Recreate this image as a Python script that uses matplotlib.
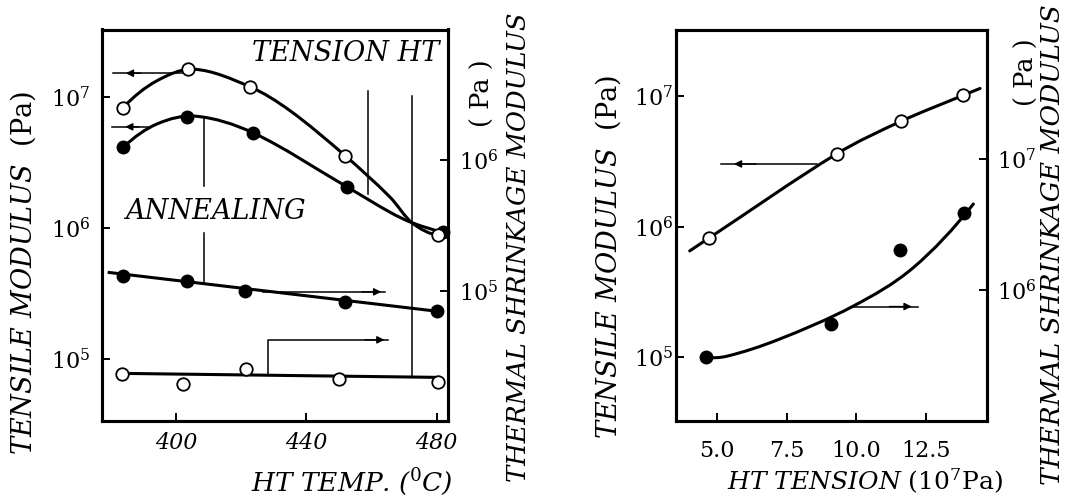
import numpy as np
import matplotlib
matplotlib.use("Agg")
import matplotlib.pyplot as plt
from matplotlib.path import Path
from matplotlib.patches import PathPatch
from matplotlib.ticker import NullLocator

plt.rcParams['font.family'] = ['DejaVu Serif']
plt.rcParams['mathtext.fontset'] = 'dejavuserif'

W, H = 1076, 499

# ---------------- data: left panel (HT temperature) ----------------
# TENSION HT, open circles (left axis)
temp_tension_open = [383.7, 403.7, 422.7, 451.9, 480.5]
mod_tension_open = [8.28e6, 1.62e7, 1.19e7, 3.56e6, 8.79e5]
# TENSION HT, filled circles (left axis)
temp_tension_fill = [383.7, 403.2, 423.7, 452.6, 482.1]
mod_tension_fill = [4.11e6, 6.95e6, 5.30e6, 2.05e6, 9.31e5]
# ANNEALING, filled circles (right axis)
temp_anneal_fill = [383.7, 403.2, 421.2, 451.9, 480.0]
mod_anneal_fill = [1.30e5, 1.20e5, 1.00e5, 8.28e4, 7.05e4]
# ANNEALING, open circles (right axis)
temp_anneal_open = [383.2, 402.0, 421.4, 450.1, 480.4]
mod_anneal_open = [2.34e4, 1.96e4, 2.54e4, 2.13e4, 2.05e4]

# hand-drawn fitted curves (guide points)
fit_t_open_T = [383.7, 394.0, 405.5, 422.7, 435.0, 451.9, 465.7, 472.4, 480.5]
fit_t_open_V = [8.28e6, 1.32e7, 1.62e7, 1.19e7, 7.82e6, 3.56e6, 1.72e6, 1.10e6, 8.79e5]
fit_t_fill_T = [383.7, 394.0, 406.0, 423.7, 452.6, 465.7, 472.4, 482.1]
fit_t_fill_V = [4.11e6, 6.19e6, 7.11e6, 5.30e6, 2.05e6, 1.32e6, 1.10e6, 9.27e5]
fit_a_fill_T = [379.4, 480.0]
fit_a_fill_V = [1.39e5, 7.05e4]
fit_a_open_T = [383.2, 480.4]
fit_a_open_V = [2.37e4, 2.21e4]

# ---------------- data: right panel (HT tension) ----------------
tension_open = [4.70, 9.30, 11.61, 13.86]
mod_ten_open = [8.17e5, 3.62e6, 6.43e6, 1.02e7]
tension_fill = [4.60, 9.10, 11.58, 13.89]
mod_ten_fill = [3.05e5, 5.42e5, 2.02e6, 3.88e6]   # right axis

fit_r_open_X = [4.01, 4.70, 9.30, 11.61, 13.86, 14.46]
fit_r_open_V = [6.52e5, 8.17e5, 3.62e6, 6.43e6, 1.02e7, 1.15e7]
fit_r_fill_X = [4.60, 5.34, 7.20, 9.90, 12.06, 14.22]
fit_r_fill_V = [3.05e5, 3.09e5, 4.15e5, 7.50e5, 1.48e6, 4.55e6]

left_xticks = [400, 440, 480]
right_xticks = [5.0, 7.5, 10.0, 12.5]


def smooth_path(ax, xs, vs, lw=2.2):
    """Smooth curve through guide points: cubic Bezier segments in (x, log10 v)."""
    x = np.asarray(xs, float)
    y = np.log10(np.asarray(vs, float))
    n = len(x)
    m = np.empty(n)
    for i in range(1, n - 1):
        m[i] = (y[i + 1] - y[i - 1]) / (x[i + 1] - x[i - 1])
    s0 = (y[1] - y[0]) / (x[1] - x[0])
    s1 = (y[-1] - y[-2]) / (x[-1] - x[-2])
    m[0] = 2 * s0 - m[1] if n > 2 else s0
    m[-1] = 2 * s1 - m[-2] if n > 2 else s1
    verts = [(x[0], y[0])]
    codes = [Path.MOVETO]
    for i in range(n - 1):
        dx = x[i + 1] - x[i]
        verts += [(x[i] + dx / 3, y[i] + m[i] * dx / 3),
                  (x[i + 1] - dx / 3, y[i + 1] - m[i + 1] * dx / 3),
                  (x[i + 1], y[i + 1])]
        codes += [Path.CURVE4] * 3
    V = np.array(verts)
    V[:, 1] = 10 ** V[:, 1]
    ax.add_patch(PathPatch(Path(V, codes), fill=False, lw=lw, color='k',
                           capstyle='round', zorder=2))


def barb(ax, tip, tail):
    ax.annotate('', xy=tip, xytext=tail,
                arrowprops=dict(arrowstyle='-|>', color='k', lw=1.0,
                                mutation_scale=11, shrinkA=0, shrinkB=0))


def px_axes(l, t, r, b):
    return [l / W, 1 - b / H, (r - l) / W, (b - t) / H]


fig = plt.figure(figsize=(W / 100, H / 100), dpi=100)
fig.patch.set_facecolor('white')

SP = 2.2
MS = 9

# ================= LEFT PANEL =================
axL = fig.add_axes(px_axes(101.7, 29.5, 448.3, 420.5))
axL2 = axL.twinx()
for a in (axL, axL2):
    a.set_yscale('log')
axL.set_xlim(377.1, 483.6)
axL.set_ylim(10 ** 4.535, 10 ** 7.512)
axL2.set_ylim(10 ** 4.016, 10 ** 6.993)

smooth_path(axL, fit_t_open_T, fit_t_open_V)
smooth_path(axL, fit_t_fill_T, fit_t_fill_V)
axL2.plot(fit_a_fill_T, fit_a_fill_V, color='k', lw=SP, zorder=2)
axL2.plot(fit_a_open_T, fit_a_open_V, color='k', lw=SP, zorder=2)

axL.plot(temp_tension_fill, mod_tension_fill, 'o', color='k', ms=MS, zorder=4, clip_on=False)
axL.plot(temp_tension_open, mod_tension_open, 'o', mfc='white', mec='k', mew=1.3, ms=MS, zorder=5, clip_on=False)
axL2.plot(temp_anneal_fill, mod_anneal_fill, 'o', color='k', ms=MS, zorder=4, clip_on=False)
axL2.plot(temp_anneal_open, mod_anneal_open, 'o', mfc='white', mec='k', mew=1.3, ms=MS, zorder=5, clip_on=False)

# guide lines / arrows (left-axis coordinates)
lk = dict(color='k', lw=1.1, zorder=1)
axL.plot([380.5, 401.7], [1.51e7, 1.51e7], **lk)
barb(axL, (384.5, 1.51e7), (389.0, 1.51e7))
axL.plot([380.2, 391.4], [5.90e6, 5.90e6], **lk)
barb(axL, (384.3, 5.90e6), (388.5, 5.90e6))
axL.plot([408.6, 408.6], [6.79e6, 2.10e6], **lk)
axL.plot([408.6, 408.6], [9.10e5, 3.78e5], **lk)
axL.plot([459.0, 459.0], [1.11e7, 1.83e6], **lk)
axL.plot([472.4, 472.4], [1.02e7, 7.38e4], **lk)
axL.plot([428.3, 428.3, 465.0], [7.60e4, 1.41e5, 1.41e5], **lk)
barb(axL, (464.0, 1.41e5), (458.0, 1.41e5))
axL.plot([426.8, 464.2], [3.27e5, 3.27e5], **lk)
barb(axL, (463.0, 3.27e5), (457.0, 3.27e5))

axL.text(0.433, 0.939, 'TENSION HT', transform=axL.transAxes, fontsize=19.5,
         fontstyle='italic', ha='left', va='center')
axL.text(0.067, 0.534, 'ANNEALING', transform=axL.transAxes, fontsize=19.5,
         fontstyle='italic', ha='left', va='center')

axL.set_xticks(left_xticks)
axL.set_xticklabels([str(v) for v in left_xticks], fontstyle='italic')
axL.set_yticks([1e5, 1e6, 1e7])
axL.set_yticklabels([r'$10^{5}$', r'$10^{6}$', r'$10^{7}$'])
axL2.set_yticks([1e5, 1e6])
axL2.set_yticklabels([r'$10^{5}$', r'$10^{6}$'])
axL.yaxis.set_minor_locator(NullLocator())
axL2.yaxis.set_minor_locator(NullLocator())
axL.tick_params(axis='x', direction='in', length=6, width=1.4, labelsize=16, pad=8)
axL.tick_params(axis='y', direction='in', length=6, width=1.4, labelsize=16, pad=8)
axL2.tick_params(axis='y', direction='in', length=6, width=1.4, labelsize=16, pad=8)
for a in (axL, axL2):
    for s in a.spines.values():
        s.set_linewidth(SP)

# ================= RIGHT PANEL =================
axR = fig.add_axes(px_axes(676.0, 29.5, 987.0, 420.5))
axR2 = axR.twinx()
for a in (axR, axR2):
    a.set_yscale('log')
axR.set_xlim(3.516, 14.711)
axR.set_ylim(10 ** 4.513, 10 ** 7.513)
axR2.set_ylim(10 ** 4.997, 10 ** 7.997)

smooth_path(axR, fit_r_open_X, fit_r_open_V)
smooth_path(axR2, fit_r_fill_X, fit_r_fill_V)
axR.plot(tension_open, mod_ten_open, 'o', mfc='white', mec='k', mew=1.3, ms=MS, zorder=5)
axR2.plot(tension_fill, mod_ten_fill, 'o', color='k', ms=MS, zorder=4)

axR.plot([5.14, 8.58], [3.03e6, 3.03e6], **lk)
barb(axR, (5.6, 3.03e6), (6.4, 3.03e6))
axR.plot([9.89, 12.24], [2.44e5, 2.44e5], **lk)
barb(axR, (12.0, 2.44e5), (11.2, 2.44e5))

axR.set_xticks(right_xticks)
axR.set_xticklabels(['%.1f' % v for v in right_xticks])
axR.set_yticks([1e5, 1e6, 1e7])
axR.set_yticklabels([r'$10^{5}$', r'$10^{6}$', r'$10^{7}$'])
axR2.set_yticks([1e6, 1e7])
axR2.set_yticklabels([r'$10^{6}$', r'$10^{7}$'])
axR.yaxis.set_minor_locator(NullLocator())
axR2.yaxis.set_minor_locator(NullLocator())
axR.tick_params(axis='x', direction='in', length=6, width=1.4, labelsize=16, pad=14)
axR.tick_params(axis='y', direction='in', length=6, width=1.4, labelsize=16, pad=2)
axR2.tick_params(axis='y', direction='in', length=6, width=1.4, labelsize=16, pad=7)
for a in (axR, axR2):
    for s in a.spines.values():
        s.set_linewidth(SP)

# ================= axis titles (figure pixel positions) =================
def ftext(x, y, s, **kw):
    fig.text(x / W, 1 - y / H, s, **kw)

FS = 19.5
ftext(23, 273, r'$\it{TENSILE\ MODULUS}$  (Pa)', fontsize=FS, rotation=90, ha='center', va='center')
ftext(519, 12, 'THERMAL SHRINKAGE MODULUS', fontsize=18.5, fontstyle='italic', rotation=90, ha='center', va='top')
ftext(482, 93, '( Pa )', fontsize=FS - 1, rotation=90, ha='center', va='center')
ftext(453, 482, r'HT TEMP. ($^{\it{0}}$C)', fontsize=19, fontstyle='italic', ha='right', va='center')

ftext(608, 257, r'$\it{TENSILE\ MODULUS}$  (Pa)', fontsize=FS, rotation=90, ha='center', va='center')
ftext(1053, 4, 'THERMAL SHRINKAGE MODULUS', fontsize=19, fontstyle='italic', rotation=90, ha='center', va='top')
ftext(1026, 72, '( Pa )', fontsize=FS - 1, rotation=90, ha='center', va='center')
ftext(727, 481, r'$\it{HT\ TENSION}$ (10$^{7}$Pa)', fontsize=18, ha='left', va='center')

fig.savefig('out.png', dpi=100, facecolor='white')
